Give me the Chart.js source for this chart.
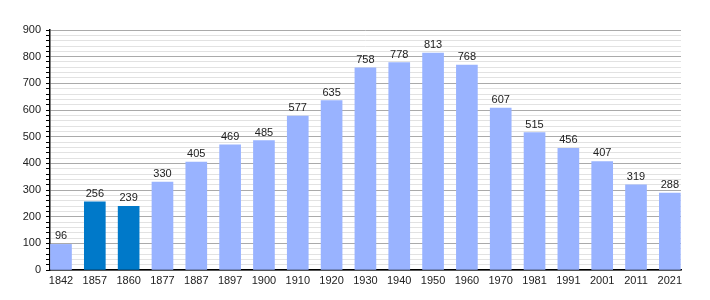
<!DOCTYPE html>
<html>
<head>
<meta charset="utf-8">
<script src="https://cdn.jsdelivr.net/npm/chart.js@4/dist/chart.umd.min.js"></script>
<style>
  html, body { margin: 0; padding: 0; background: #fff; }
  #wrap { width: 710px; height: 300px; }
</style>
</head>
<body>
<div id="wrap"><canvas id="chart1" width="710" height="300"></canvas></div>
<script>
// data
const years = ["1842","1857","1860","1877","1887","1897","1900","1910","1920","1930","1940","1950","1960","1970","1981","1991","2001","2011","2021"]
const population = [96,256,239,330,405,469,485,577,635,758,778,813,768,607,515,456,407,319,288]
const highlighted = ["1857","1860"] // darker bars
const yTicks = [0,100,200,300,400,500,600,700,800,900]

const lightBlue = "#99b3ff"
const darkBlue = "#0079c9"
const fontSpec = { family: "'Liberation Sans', Arial, sans-serif", size: 11 }

// labels on top of each bar
const valueLabels = {
  id: "valueLabels",
  afterDatasetsDraw(chart){
    const ctx = chart.ctx
    const meta = chart.getDatasetMeta(0)
    ctx.save()
    ctx.font = "11px 'Liberation Sans', Arial, sans-serif"
    ctx.fillStyle = "#222"
    ctx.textAlign = "center"
    ctx.textBaseline = "alphabetic"
    meta.data.forEach((bar, i) => {
      ctx.fillText(String(population[i]), bar.x, bar.y - 5)
    })
    ctx.restore()
  }
}

const ctx = document.getElementById("chart1").getContext("2d")
const chart = new Chart(ctx, {
  type: "bar",
  data: {
    datasets: [{
      data: population.map((v, i) => ({ x: i, y: v })),
      backgroundColor: years.map(y => highlighted.includes(y) ? darkBlue : lightBlue),
      borderWidth: 0,
      barThickness: 21
    }]
  },
  options: {
    animation: false,
    responsive: false,
    layout: { padding: { left: 0, right: 29, top: 30, bottom: 0 } },
    plugins: {
      legend: { display: false },
      tooltip: { enabled: false }
    },
    scales: {
      x: {
        type: "linear",
        offset: false,
        min: -0.325,
        max: 18.33,
        afterBuildTicks: (scale) => { scale.ticks = years.map((_, i) => ({ value: i })) },
        afterFit: (scale) => { scale.height = 30 },
        grid: { display: false, drawTicks: false, offset: false },
        border: { display: true, color: "#000", width: 1.5 },
        ticks: {
          autoSkip: false,
          maxRotation: 0,
          padding: 4,
          color: "#222",
          font: fontSpec,
          callback: (v) => years[v]
        }
      },
      y: {
        min: 0,
        max: 900,
        afterBuildTicks: (scale) => {
          const t = []
          for (let v = 0; v <= 900; v += 20) t.push({ value: v })
          scale.ticks = t
        },
        afterFit: (scale) => { scale.width = 50 },
        grid: {
          color: (c) => (c.tick && c.tick.value % 100 === 0) ? "#aaaaaa" : "#e2e2e2",
          tickColor: "#000",
          tickLength: 4,
          lineWidth: 1
        },
        border: { display: true, color: "#000", width: 1.5 },
        ticks: {
          autoSkip: false,
          padding: 5,
          color: "#222",
          font: fontSpec,
          callback: (v) => yTicks.includes(v) ? String(v) : ""
        }
      }
    }
  },
  plugins: [valueLabels]
})
</script>
</body>
</html>
